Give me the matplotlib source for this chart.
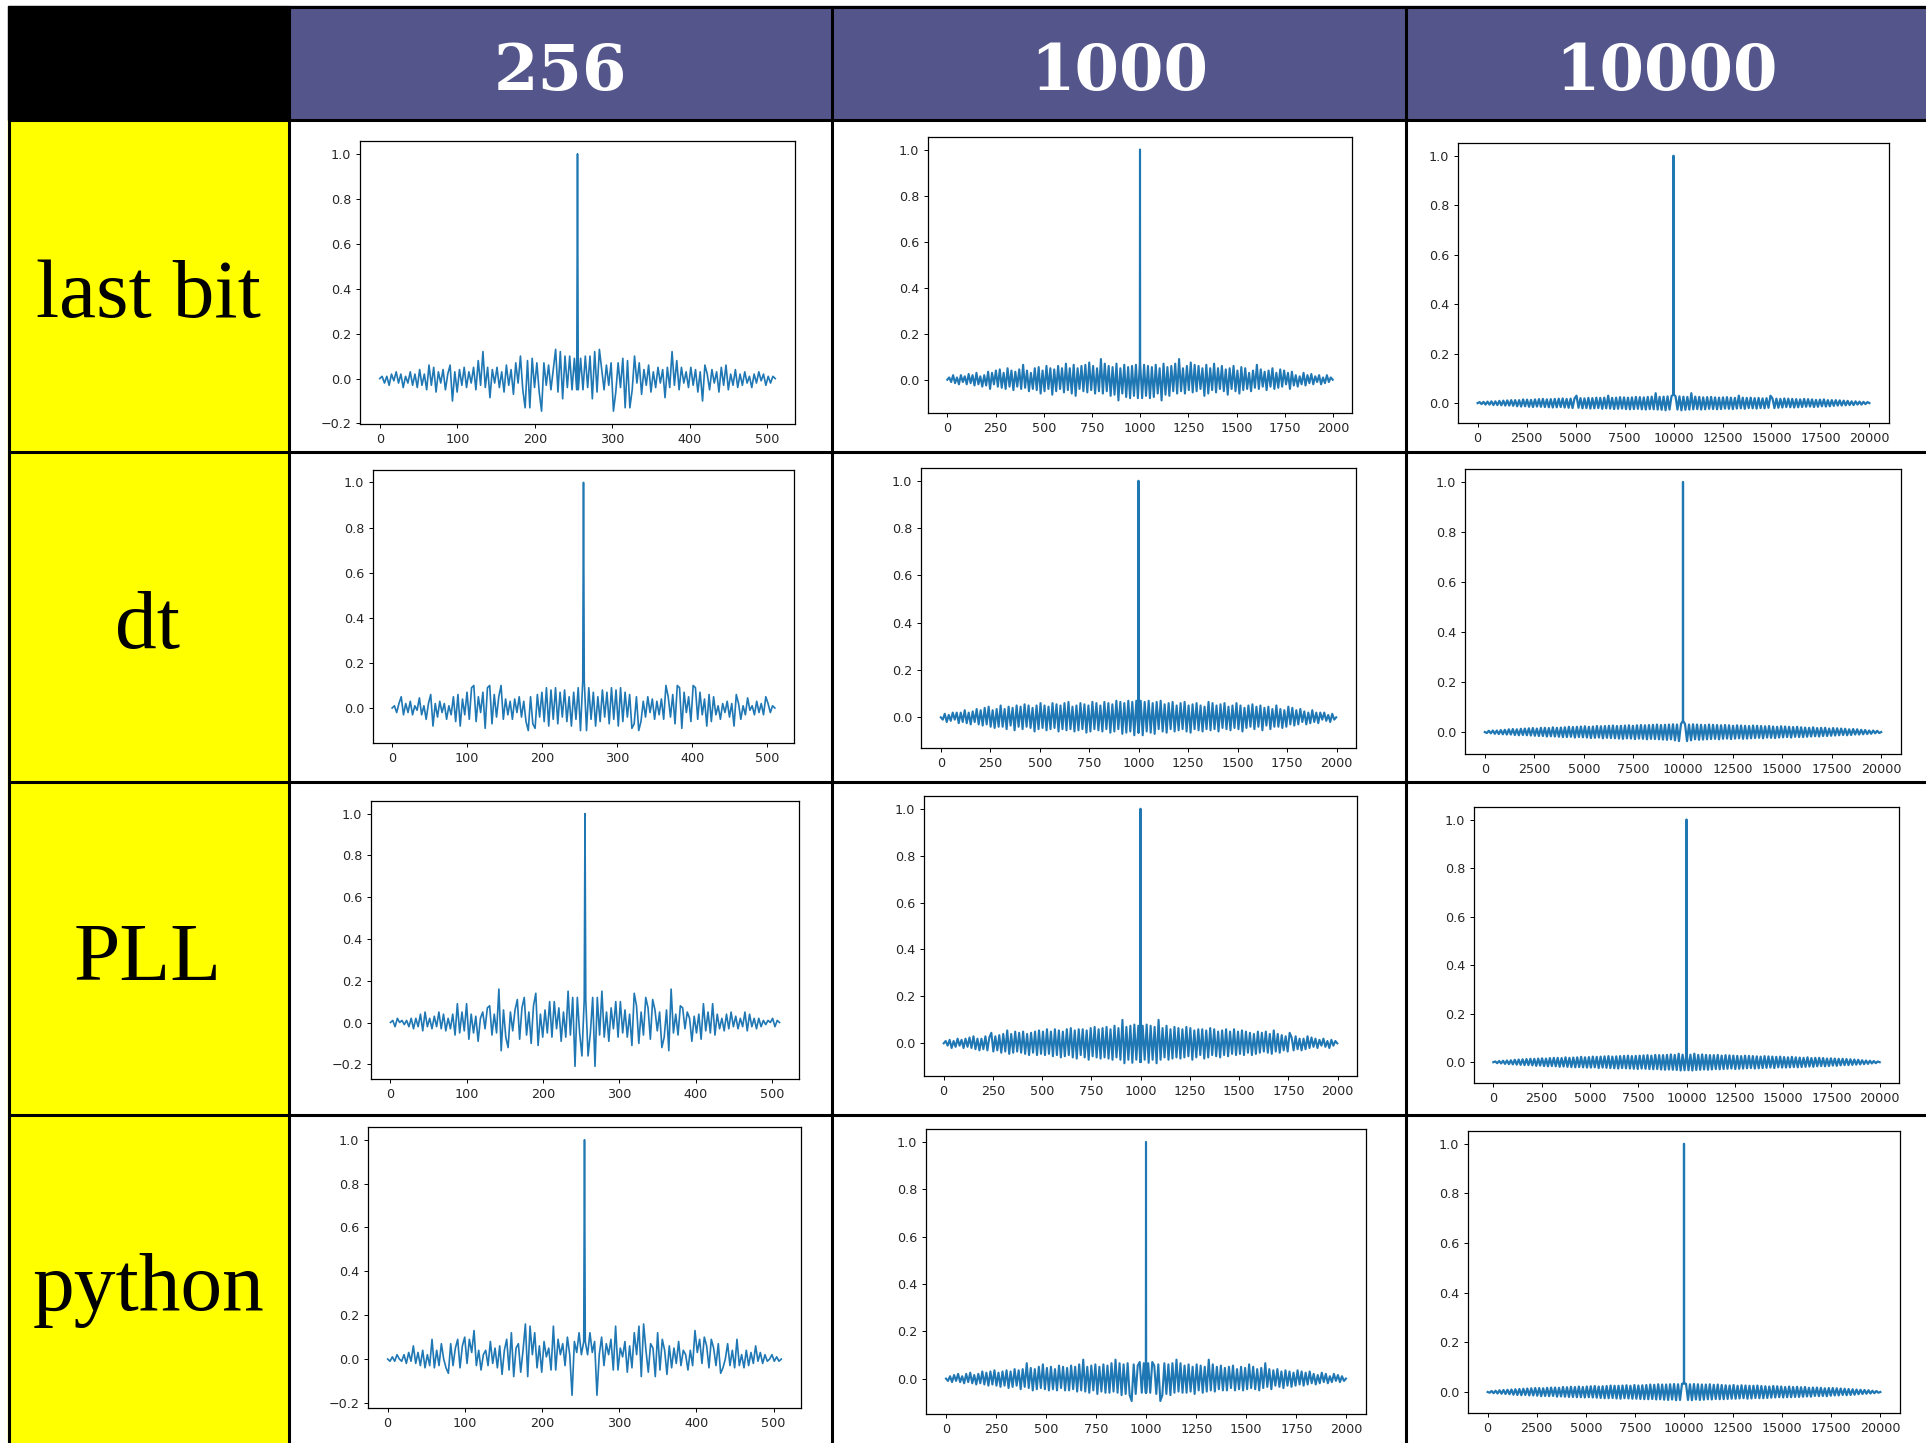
import numpy as np
import matplotlib.pyplot as plt
from matplotlib.patches import Rectangle
from matplotlib.ticker import MultipleLocator

W, H = 1926, 1443

col_labels = ['256', '1000', '10000']
row_labels = ['last bit', 'dt', 'PLL', 'python']

# autocorrelations are symmetric: only the lags before the peak are listed
peak_lag = {'256': 255, '1000': 999, '10000': 9999}
x_tick_step = {'256': 100, '1000': 250, '10000': 2500}
line_width = {'256': 1.2, '1000': 1.5, '10000': 1.6}

last_bit_256 = [
    0.00, 0.01, -0.02, 0.01, -0.03, 0.02, -0.01, 0.03, -0.02, 0.02,
    -0.04, 0.01, -0.02, 0.03, -0.03, 0.02, -0.04, 0.04, -0.03, 0.02,
    -0.05, 0.06, -0.03, 0.05, -0.06, 0.03, -0.02, 0.04, -0.05, 0.02,
    0.06, -0.10, 0.03, -0.06, 0.04, -0.03, 0.05, -0.04, 0.03, -0.02,
    0.05, -0.05, 0.08, -0.03, 0.12, -0.04, 0.05, -0.085, 0.04, -0.02,
    0.05, -0.04, 0.03, -0.06, 0.06, -0.03, 0.04, -0.07, 0.07, -0.02,
    0.10, -0.05, -0.13, 0.08, -0.13, 0.09, -0.04, 0.07, -0.06, -0.145,
    0.07, -0.03, 0.06, -0.05, 0.04, 0.13, -0.06, 0.12, -0.09, 0.10,
    -0.04, 0.10, -0.05, 0.09, -0.05]
dt_256 = [
    0.00, 0.01, -0.02, 0.02, 0.05, -0.03, 0.02, -0.02, 0.03, -0.03,
    0.01, -0.01, 0.045, -0.03, 0.01, -0.05, 0.02, 0.06, -0.08, 0.02,
    -0.04, 0.03, -0.02, 0.02, -0.05, 0.01, -0.03, 0.05, -0.06, 0.06,
    -0.08, 0.04, -0.03, 0.07, -0.05, 0.09, 0.10, -0.06, 0.05, -0.02,
    0.07, -0.09, 0.09, 0.10, -0.07, 0.06, -0.04, 0.05, 0.10, -0.05,
    0.04, -0.03, 0.03, -0.05, 0.04, -0.02, 0.05, -0.04, 0.03, -0.06,
    -0.10, 0.05, -0.07, -0.09, 0.06, -0.04, 0.07, -0.06, 0.09, -0.08,
    0.08, -0.05, 0.09, -0.07, 0.07, -0.04, 0.08, -0.06, 0.05, -0.08,
    0.07, -0.05, 0.09, -0.10, 0.12]
pll_256 = [
    0.00, 0.01, -0.02, 0.02, 0.00, 0.01, -0.01, 0.01, -0.02, 0.02,
    -0.03, 0.02, -0.02, 0.04, -0.04, 0.05, -0.02, 0.02, -0.03, 0.03,
    -0.02, 0.05, -0.03, 0.04, -0.04, 0.02, -0.03, 0.04, -0.06, 0.09,
    -0.05, 0.05, -0.04, 0.09, -0.08, 0.04, -0.05, 0.03, -0.09, 0.02,
    0.05, -0.03, 0.07, 0.08, -0.06, 0.04, -0.05, 0.16, -0.135, 0.06,
    -0.07, -0.12, 0.05, -0.04, 0.06, 0.11, -0.08, 0.07, 0.12, -0.06,
    0.05, -0.10, 0.08, 0.14, -0.11, 0.04, -0.07, 0.06, -0.05, 0.10,
    -0.07, 0.10, -0.03, 0.07, -0.09, 0.05, -0.07, 0.15, -0.06, 0.12,
    -0.21, 0.12, -0.05, -0.16, 0.11]
python_256 = [
    0.00, -0.01, 0.01, -0.01, 0.02, 0.00, -0.01, 0.02, -0.02, 0.03,
    -0.01, 0.06, -0.02, 0.03, -0.03, 0.04, -0.04, 0.02, -0.03, 0.09,
    -0.04, 0.04, -0.03, 0.07, 0.00, -0.04, -0.065, 0.07, -0.03, 0.05,
    0.09, -0.04, 0.06, 0.10, -0.02, 0.09, 0.03, 0.13, -0.03, 0.04,
    -0.05, 0.02, 0.04, -0.03, 0.08, -0.02, 0.05, -0.04, 0.06, -0.07,
    0.04, 0.09, -0.05, 0.12, -0.08, 0.05, 0.07, -0.06, 0.04, 0.16,
    -0.08, 0.15, 0.02, 0.12, -0.04, 0.06, -0.06, 0.08, 0.01, 0.05,
    -0.05, 0.15, -0.05, 0.09, 0.02, 0.07, -0.03, 0.10, 0.02, -0.165,
    0.08, 0.03, 0.12, 0.02, 0.08]

last_bit_1000 = [
    0.00, 0.01, -0.01, 0.02, -0.015, 0.01, -0.02, 0.02, -0.01, 0.015,
    -0.02, 0.025, -0.015, 0.02, -0.025, 0.03, -0.02, 0.015, -0.03, 0.02,
    -0.025, 0.035, -0.04, 0.03, -0.02, 0.04, -0.03, 0.045, -0.035, 0.03,
    -0.04, 0.05, -0.03, 0.04, -0.045, 0.035, -0.03, 0.045, -0.04, 0.065,
    -0.035, 0.04, -0.05, 0.03, -0.04, 0.05, -0.045, 0.055, -0.06, 0.04,
    -0.05, 0.06, -0.04, 0.05, -0.065, 0.045, -0.05, 0.06, -0.04, 0.05,
    -0.055, 0.07, -0.045, 0.05, -0.06, 0.065, -0.07, 0.05, -0.04, 0.06,
    -0.05, 0.065, -0.055, 0.075, -0.045, 0.06, -0.06, 0.05, -0.05, 0.09,
    -0.06, 0.07, -0.05, 0.06, -0.07, 0.055, -0.065, 0.07, -0.09, 0.05,
    -0.06, 0.065, -0.075, 0.055, -0.08, 0.06, -0.07, 0.065, -0.08, 0.07]
dt_1000 = [
    0.00, -0.01, 0.015, -0.02, 0.01, -0.015, 0.02, -0.01, 0.02, -0.025,
    0.02, -0.02, 0.03, -0.025, 0.02, -0.03, 0.025, -0.02, 0.035, -0.03,
    0.03, -0.035, 0.04, -0.03, 0.045, -0.04, 0.03, -0.045, 0.035, -0.04,
    0.05, -0.04, 0.035, -0.05, 0.045, -0.035, 0.04, -0.055, 0.05, -0.04,
    0.045, -0.05, 0.055, -0.04, 0.05, -0.045, 0.04, -0.06, 0.05, -0.05,
    0.06, -0.045, 0.05, -0.055, 0.045, -0.05, 0.06, -0.045, 0.055, -0.06,
    0.05, -0.05, 0.06, -0.055, 0.065, -0.05, 0.045, -0.06, 0.05, -0.055,
    0.06, -0.05, 0.055, -0.065, 0.05, -0.06, 0.065, -0.05, 0.06, -0.055,
    0.05, -0.06, 0.065, -0.05, 0.06, -0.065, 0.055, -0.06, 0.07, -0.05,
    0.065, -0.07, 0.06, -0.065, 0.07, -0.06, 0.065, -0.076, 0.07, -0.065]
pll_1000 = [
    0.00, 0.01, -0.01, 0.015, -0.02, 0.01, -0.015, 0.02, -0.01, 0.015,
    -0.02, 0.02, -0.015, 0.025, -0.02, 0.03, -0.025, 0.02, -0.03, 0.02,
    -0.025, 0.03, -0.03, 0.025, 0.045, -0.035, 0.03, -0.03, 0.035, -0.04,
    0.04, -0.035, 0.055, -0.045, 0.04, -0.04, 0.05, -0.035, 0.045, -0.04,
    0.05, -0.045, 0.04, -0.05, 0.045, -0.04, 0.05, -0.05, 0.055, -0.045,
    0.05, -0.05, 0.06, -0.045, 0.05, -0.055, 0.06, -0.05, 0.055, -0.06,
    0.05, -0.055, 0.06, -0.05, 0.065, -0.06, 0.055, -0.065, 0.06, -0.05,
    0.06, -0.06, 0.055, -0.07, 0.065, -0.055, 0.07, -0.06, 0.06, -0.065,
    0.065, -0.06, 0.07, -0.065, 0.06, -0.07, 0.075, -0.06, 0.065, -0.07,
    0.10, -0.085, 0.07, -0.07, 0.075, -0.083, 0.08, -0.07, 0.075, -0.08]
python_1000 = [
    0.00, -0.01, 0.01, -0.015, 0.015, -0.01, 0.02, -0.015, 0.01, -0.02,
    0.02, -0.015, 0.025, -0.02, 0.015, -0.025, 0.02, -0.02, 0.03, -0.025,
    0.025, -0.03, 0.03, -0.025, 0.035, -0.03, 0.025, -0.035, 0.03, -0.03,
    0.035, -0.04, 0.03, -0.035, 0.04, -0.03, 0.035, -0.045, 0.04, -0.035,
    0.065, -0.04, 0.045, -0.05, 0.04, -0.045, 0.05, -0.04, 0.06, -0.045,
    0.045, -0.05, 0.05, -0.045, 0.04, -0.05, 0.055, -0.04, 0.05, -0.05,
    0.045, -0.05, 0.055, -0.045, 0.05, -0.055, 0.06, -0.05, 0.08, -0.055,
    0.05, -0.06, 0.055, -0.05, 0.06, -0.065, 0.05, -0.055, 0.06, -0.06,
    0.055, -0.06, 0.065, -0.055, 0.08, -0.06, 0.065, -0.07, 0.06, -0.065,
    0.065, -0.07, -0.095, 0.06, -0.065, 0.055, 0.07, -0.06, 0.065, -0.06]

last_bit_10000 = [
    0.00, 0.004, -0.004, 0.005, -0.006, 0.006, -0.006, 0.007, -0.008, 0.007,
    -0.008, 0.009, -0.009, 0.01, -0.01, 0.011, -0.01, 0.012, -0.011, 0.012,
    -0.013, 0.012, -0.014, 0.015, -0.013, 0.014, -0.015, 0.013, -0.016, 0.015,
    -0.014, 0.016, -0.015, 0.017, -0.016, 0.015, -0.017, 0.016, -0.018, 0.017,
    -0.017, 0.018, -0.016, 0.019, -0.018, 0.017, -0.019, 0.018, -0.02, 0.019,
    0.03, -0.019, 0.02, -0.021, 0.019, -0.02, 0.021, -0.022, 0.02, -0.021,
    0.022, -0.02, 0.021, -0.023, 0.022, -0.021, 0.03, -0.022, 0.021, -0.024,
    0.022, -0.023, 0.024, -0.022, 0.023, -0.024, 0.022, -0.025, 0.023, -0.024,
    0.025, -0.023, 0.024, -0.025, 0.023, -0.026, 0.025, -0.024, 0.026, -0.025,
    0.04, -0.026, 0.025, -0.027, 0.026, -0.029, 0.027, -0.026, 0.028, 0.035]
dt_10000 = [
    0.00, -0.004, 0.005, -0.005, 0.006, -0.007, 0.006, -0.008, 0.008, -0.009,
    0.009, -0.01, 0.011, -0.01, 0.012, -0.012, 0.011, -0.013, 0.013, -0.012,
    0.014, -0.013, 0.015, -0.014, 0.016, -0.015, 0.014, -0.016, 0.017, -0.016,
    0.017, -0.018, 0.016, -0.017, 0.019, -0.018, 0.017, -0.019, 0.018, -0.02,
    0.019, -0.02, 0.021, -0.019, 0.02, -0.022, 0.021, -0.02, 0.022, -0.021,
    0.023, -0.022, 0.021, -0.024, 0.022, -0.023, 0.024, -0.022, 0.023, -0.025,
    0.024, -0.023, 0.025, -0.024, 0.026, -0.025, 0.024, -0.026, 0.025, -0.027,
    0.026, -0.025, 0.027, -0.026, 0.025, -0.028, 0.027, -0.026, 0.028, -0.027,
    0.027, -0.029, 0.028, -0.027, 0.029, -0.028, 0.03, -0.029, 0.028, -0.03,
    0.029, -0.031, 0.03, -0.029, 0.031, -0.033, 0.03, -0.036, 0.032, 0.045]
pll_10000 = [
    0.00, 0.003, -0.004, 0.005, -0.005, 0.006, -0.007, 0.007, -0.008, 0.008,
    -0.009, 0.01, -0.01, 0.011, -0.011, 0.012, -0.012, 0.013, -0.012, 0.014,
    -0.013, 0.014, -0.015, 0.015, -0.014, 0.016, -0.016, 0.015, -0.017, 0.017,
    -0.016, 0.018, -0.017, 0.018, -0.019, 0.017, -0.018, 0.02, -0.019, 0.018,
    -0.02, 0.019, -0.021, 0.02, -0.02, 0.022, -0.021, 0.02, -0.022, 0.021,
    -0.022, 0.023, -0.021, 0.022, -0.024, 0.023, -0.022, 0.024, -0.023, 0.025,
    -0.024, 0.023, -0.025, 0.024, -0.026, 0.025, -0.024, 0.026, -0.025, 0.027,
    -0.026, 0.025, -0.027, 0.026, -0.028, 0.027, -0.026, 0.028, -0.027, 0.029,
    -0.028, 0.027, -0.029, 0.03, -0.028, 0.029, -0.03, 0.029, -0.031, 0.03,
    -0.03, 0.032, -0.031, 0.03, -0.032, 0.035, -0.034, 0.031, -0.033, 0.04]
python_10000 = [
    0.00, -0.003, 0.004, -0.005, 0.005, -0.006, 0.007, -0.007, 0.008, -0.008,
    0.009, -0.009, 0.01, -0.011, 0.011, -0.012, 0.012, -0.013, 0.013, -0.012,
    0.014, -0.014, 0.015, -0.014, 0.016, -0.015, 0.016, -0.017, 0.015, -0.016,
    0.017, -0.017, 0.018, -0.016, 0.018, -0.019, 0.017, -0.018, 0.02, -0.019,
    0.019, -0.02, 0.021, -0.02, 0.02, -0.021, 0.022, -0.021, 0.02, -0.022,
    0.022, -0.021, 0.023, -0.022, 0.024, -0.023, 0.022, -0.024, 0.023, -0.025,
    0.024, -0.025, 0.026, -0.024, 0.025, -0.026, 0.025, -0.027, 0.026, -0.025,
    0.027, -0.026, 0.025, -0.027, 0.028, -0.027, 0.026, -0.028, 0.027, -0.029,
    0.028, -0.029, 0.03, -0.028, 0.029, -0.03, 0.031, -0.029, 0.03, -0.031,
    0.03, -0.032, 0.031, -0.03, 0.032, -0.033, 0.031, -0.032, 0.033, 0.035]

series = {
    ('last bit', '256'): last_bit_256, ('last bit', '1000'): last_bit_1000,
    ('last bit', '10000'): last_bit_10000,
    ('dt', '256'): dt_256, ('dt', '1000'): dt_1000, ('dt', '10000'): dt_10000,
    ('PLL', '256'): pll_256, ('PLL', '1000'): pll_1000, ('PLL', '10000'): pll_10000,
    ('python', '256'): python_256, ('python', '1000'): python_1000,
    ('python', '10000'): python_10000,
}

# table layout in pixels
col_edges = [289, 832, 1406, W]
row_edges = [120, 452, 782, 1115, H]
# axes boxes in pixels: left, top, right, bottom
boxes = {
    ('last bit', '256'): (360, 141, 795, 424),
    ('last bit', '1000'): (928, 137, 1352, 413),
    ('last bit', '10000'): (1458, 143, 1889, 423),
    ('dt', '256'): (373, 470, 794, 743),
    ('dt', '1000'): (921, 468, 1356, 748),
    ('dt', '10000'): (1465, 469, 1901, 754),
    ('PLL', '256'): (371, 801, 799, 1079),
    ('PLL', '1000'): (924, 796, 1357, 1076),
    ('PLL', '10000'): (1474, 807, 1899, 1083),
    ('python', '256'): (368, 1127, 801, 1408),
    ('python', '1000'): (926, 1129, 1366, 1414),
    ('python', '10000'): (1468, 1131, 1900, 1413),
}


def full_series(half, peak):
    # listed values run from lag 0 up to the lag just before the peak
    half = np.array(half)
    x_half = np.linspace(0, peak - 1, len(half))
    x = np.concatenate([x_half, [peak], 2 * peak - x_half[::-1]])
    y = np.concatenate([half, [1.0], half[::-1]])
    return x, y


fig = plt.figure(figsize=(W / 100, H / 100), dpi=100)

# table background
bg = fig.add_axes([0, 0, 1, 1])
bg.axis('off')
bg.add_patch(Rectangle((8, 6), 281, 114, color='black'))
bg.add_patch(Rectangle((289, 6), W - 289, 114, color='#54558a'))
bg.add_patch(Rectangle((8, 120), 281, H - 120, color='#ffff00'))
for x in [9] + col_edges[:-1]:
    bg.plot([x, x], [6, H], color='black', lw=2.2, solid_capstyle='butt')
for y in [7] + row_edges[:-1]:
    bg.plot([8, W], [y, y], color='black', lw=2.2, solid_capstyle='butt')

for i, lab in enumerate(col_labels):
    cx = (col_edges[i] + col_edges[i + 1]) / 2
    bg.text(cx, 90, lab, color='white', fontsize=46, fontweight='bold',
            family='DejaVu Serif', ha='center', va='baseline')
for j, lab in enumerate(row_labels):
    cy = (row_edges[j] + row_edges[j + 1]) / 2
    bg.text(148, cy + 31, lab, color='black', fontsize=60,
            family='Liberation Serif', ha='center', va='baseline')
bg.set_xlim(0, W)
bg.set_ylim(H, 0)

# one autocorrelation plot per cell
for (row, col), half in series.items():
    l, t, r, b = boxes[(row, col)]
    ax = fig.add_axes([l / W, 1 - b / H, (r - l) / W, (b - t) / H])
    x, y = full_series(half, peak_lag[col])
    ax.plot(x, y, color='#1f77b4', lw=line_width[col])
    ax.xaxis.set_major_locator(MultipleLocator(x_tick_step[col]))
    ax.yaxis.set_major_locator(MultipleLocator(0.2))
    ax.tick_params(labelsize=9.2, length=3.1, width=0.7, pad=3.1,
                   labelcolor='#262626')
    for s in ax.spines.values():
        s.set_linewidth(0.9)

fig.savefig('out.png', dpi=100)
